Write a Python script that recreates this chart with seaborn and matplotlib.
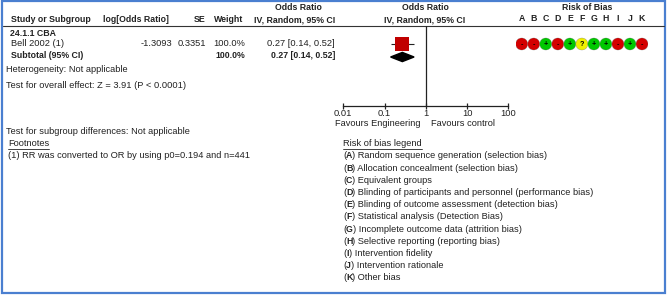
import numpy as np
import pandas as pd
import matplotlib
matplotlib.use("Agg")
import matplotlib.pyplot as plt
import seaborn as sns

# ---- data ----
studies = ["Bell 2002 (1)"]
log_or = [-1.3093]
se = [0.3351]
weights = [100.0]
odds = [0.27]
ci_low = [0.14]
ci_high = [0.52]

sub_or = 0.27
sub_low = 0.14
sub_high = 0.52

rob_domains = ["A", "B", "C", "D", "E", "F", "G", "H", "I", "J", "K"]
rob_bell = ["-", "-", "+", "-", "+", "?", "+", "+", "-", "+", "-"]

axis_ticks = [0.01, 0.1, 1, 10, 100]
axis_labels = ["0.01", "0.1", "1", "10", "100"]

legend_items = [
    ("A", "Random sequence generation (selection bias)"),
    ("B", "Allocation concealment (selection bias)"),
    ("C", "Equivalent groups"),
    ("D", "Blinding of participants and personnel (performance bias)"),
    ("E", "Blinding of outcome assessment (detection bias)"),
    ("F", "Statistical analysis (Detection Bias)"),
    ("G", "Incomplete outcome data (attrition bias)"),
    ("H", "Selective reporting (reporting bias)"),
    ("I", "Intervention fidelity"),
    ("J", "Intervention rationale"),
    ("K", "Other bias"),
]

sns.set_style("white")
plt.rcParams["font.family"] = ["Liberation Sans", "DejaVu Sans"]
FS = 6.7      # regular text
FSB = 6.35    # bold text
INK = "#222222"
W, H = 667, 295

fig = plt.figure(figsize=(W / 100, H / 100), dpi=100)

# overlay axes in pixel coordinates for the table text
base = fig.add_axes([0, 0, 1, 1])
base.set_xlim(0, W)
base.set_ylim(H, 0)
base.axis("off")


def txt(x, y, s, ha="left", bold=False, **kw):
    return base.text(x, y, s, ha=ha, va="center", fontsize=FSB if bold else FS,
                     fontweight="bold" if bold else "normal", color=INK, **kw)


def pieces(x, y, parts):
    # draw consecutive text pieces, each (string, bold), one after the other
    for s, bold in parts:
        t = txt(x, y, s, bold=bold)
        fig.canvas.draw()
        x += t.get_window_extent().width


# frame and header rule
base.add_patch(plt.Rectangle((2, 1), 663, 292, fill=False, ec="#4a7fd0", lw=1.6))
base.plot([3, 664], [26, 26], color="#333333", lw=0.8)

# headers
txt(11, 20, "Study or Subgroup", bold=True)
txt(103, 20, "log[Odds Ratio]", bold=True)
txt(206, 20, "SE", ha="right", bold=True)
txt(243, 20, "Weight", ha="right", bold=True)
txt(298, 7.5, "Odds Ratio", ha="center", bold=True)
txt(335, 20, "IV, Random, 95% CI", ha="right", bold=True)
txt(425, 7.5, "Odds Ratio", ha="center", bold=True)
txt(425, 20, "IV, Random, 95% CI", ha="center", bold=True)
txt(587, 7.5, "Risk of Bias", ha="center", bold=True)

# rows
txt(10, 33, "24.1.1 CBA", bold=True)
for i, name in enumerate(studies):
    y = 44 + i * 11
    txt(11, y, name)
    txt(172, y, f"{log_or[i]:.4f}", ha="right")
    txt(206, y, f"{se[i]:.4f}", ha="right")
    txt(245, y, f"{weights[i]:.1f}%", ha="right")
    txt(335, y, f"{odds[i]:.2f} [{ci_low[i]:.2f}, {ci_high[i]:.2f}]", ha="right")
y_sub = 44 + len(studies) * 11.5
txt(11, y_sub, "Subtotal (95% CI)", bold=True)
txt(245, y_sub, f"{sum(weights):.1f}%", ha="right", bold=True)
txt(335, y_sub, f"{sub_or:.2f} [{sub_low:.2f}, {sub_high:.2f}]", ha="right", bold=True)
txt(6, 70, "Heterogeneity: Not applicable")
txt(6, 85, "Test for overall effect: Z = 3.91 (P < 0.0001)")
txt(6, 131.5, "Test for subgroup differences: Not applicable")

underlined = []
underlined.append(txt(8, 144, "Footnotes"))
txt(8, 156, "(1) RR was converted to OR by using p0=0.194 and n=441")
underlined.append(txt(343, 144, "Risk of bias legend"))
for k, (letter, desc) in enumerate(legend_items):
    y = 156 + k * 12.17
    pieces(343, y, [("(", False), (letter, True), (") " + desc, False)])

fig.canvas.draw()
for t in underlined:
    bb = t.get_window_extent()
    yy = H - bb.y0 + 0.3
    base.plot([bb.x0, bb.x1], [yy, yy], color=INK, lw=0.6)

# forest plot axes: 0.01 -> 343.3 px, 100 -> 508.3 px; rows from header rule to axis line
fx0, fx1 = 343.3, 508.3
fy_top, fy_bot = 26, 105.5
fax = fig.add_axes([fx0 / W, 1 - fy_bot / H, (fx1 - fx0) / W, (fy_bot - fy_top) / H])
fax.set_xscale("log")
fax.set_xlim(0.01, 100)
fax.set_ylim(fy_bot, fy_top)
fax.patch.set_alpha(0)
for side in ["top", "right", "left"]:
    fax.spines[side].set_visible(False)
fax.spines["bottom"].set_color(INK)
fax.spines["bottom"].set_linewidth(0.9)
fax.set_xticks(axis_ticks)
fax.set_xticklabels(axis_labels, fontsize=FS)
fax.minorticks_off()
fax.set_yticks([])
fax.tick_params(axis="x", direction="inout", length=4.5, width=0.9, pad=0.2,
                colors=INK, bottom=True)
fax.axvline(1, color=INK, lw=0.9)

df = pd.DataFrame({"study": studies, "or": odds, "lo": ci_low, "hi": ci_high,
                   "w": weights, "y": [44 + i * 11 for i in range(len(studies))]})
fax.hlines(df["y"], df["lo"], df["hi"], color=INK, lw=0.8)
sns.scatterplot(data=df, x="or", y="y", marker="s", s=100, color="#c00000",
                edgecolor="#c00000", linewidth=0, ax=fax, legend=False, zorder=3)
fax.set_xlabel("")
fax.set_ylabel("")
ys = y_sub + 1.5
fax.fill([sub_low, sub_or, sub_high, sub_or], [ys, ys - 4.6, ys, ys + 4.6],
         color="black", zorder=3)

txt(420.5, 124, "Favours Engineering", ha="right")
txt(431, 124, "Favours control", ha="left")

# risk of bias dots
rx0, spacing = 521.7, 12.03
rax = fig.add_axes([(rx0 - 0.5 * spacing) / W, 1 - 60 / H, 11 * spacing / W, (60 - 26) / H])
rob_df = pd.DataFrame({"domain": rob_domains, "pos": np.arange(len(rob_domains)),
                       "judge": rob_bell, "y": 44})
pal = {"-": "#d40000", "+": "#00c800", "?": "#f0f000"}
sns.scatterplot(data=rob_df, x="pos", y="y", hue="judge", palette=pal, s=75,
                edgecolor="#666666", linewidth=0.2, ax=rax, legend=False)
for _, r in rob_df.iterrows():
    rax.text(r["pos"], r["y"] + 0.3, r["judge"], ha="center", va="center",
             fontsize=5.2, fontweight="bold", color="black")
rax.set_xlim(-0.5, len(rob_domains) - 0.5)
rax.set_ylim(60, 26)
rax.patch.set_alpha(0)
rax.xaxis.tick_top()
rax.set_xticks(rob_df["pos"])
rax.set_xticklabels(rob_domains, fontsize=FSB, fontweight="bold", color=INK)
rax.tick_params(axis="x", length=0, pad=2.5)
rax.set_yticks([])
rax.set_xlabel("")
rax.set_ylabel("")
sns.despine(ax=rax, left=True, bottom=True, top=True, right=True)

fig.savefig("out.png", dpi=100)
